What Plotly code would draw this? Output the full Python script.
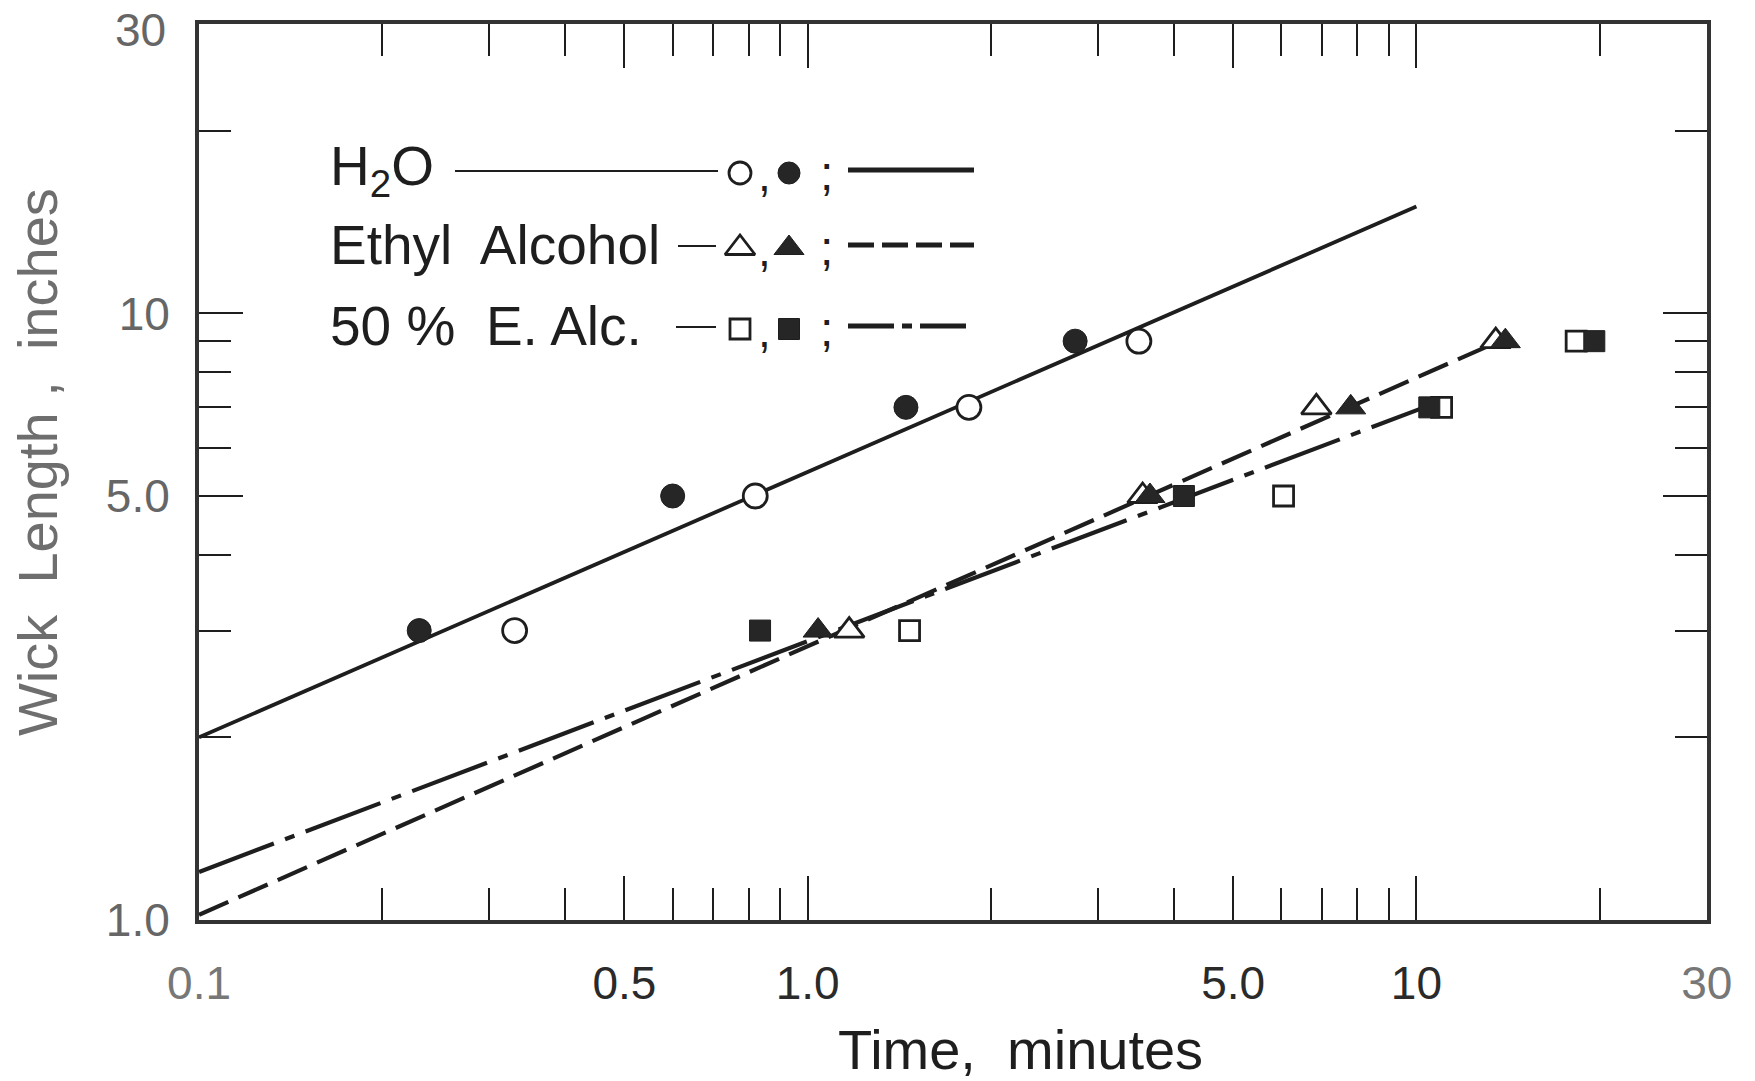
import math
import plotly.graph_objects as go

# ---- data: wick length (inches) versus time (minutes) ----
wick_length = [3.0, 5.0, 7.0, 9.0]

h2o_closed_t = [0.23, 0.60, 1.45, 2.75]
h2o_open_t = [0.33, 0.82, 1.84, 3.50]

ethyl_closed_t = [1.04, 3.65, 7.80, 14.0]
ethyl_open_t = [1.17, 3.55, 6.85, 13.5]

half_closed_t = [0.835, 4.15, 10.5, 19.6]
half_open_t = [1.47, 6.05, 11.0, 18.3]

# fitted lines (end points)
h2o_fit_t = [0.1, 10.0]
h2o_fit_len = [2.0, 15.0]
ethyl_fit_t = [0.1, 13.0]
ethyl_fit_len = [1.02, 8.8]
half_fit_t = [0.1, 10.3]
half_fit_len = [1.2, 7.0]

# axis ticks
x_major = [0.1, 0.5, 1.0, 5.0, 10.0, 30.0]
x_major_text = ["0.1", "0.5", "1.0", "5.0", "10", "30"]
x_minor = [0.2, 0.3, 0.4, 0.6, 0.7, 0.8, 0.9, 2, 3, 4, 6, 7, 8, 9, 20]
y_major = [1.0, 5.0, 10.0]
y_major_text = ["1.0", "5.0", "10"]
y_minor = [2, 3, 4, 6, 7, 8, 9, 20]
y_top_text = "30"

# ---- layout geometry (pixels) ----
W, H = 1755, 1081
L, R, T, B = 199, 1707, 24, 920

INK = "#1e1e1e"
FONT = "Liberation Sans"


def px(xp):
    return (xp - L) / (R - L)


def py(yp):
    return (B - yp) / (B - T)


fig = go.Figure()

# fitted lines
fig.add_trace(go.Scatter(x=h2o_fit_t, y=h2o_fit_len, mode="lines",
                         line=dict(color=INK, width=3.8)))
fig.add_trace(go.Scatter(x=ethyl_fit_t, y=ethyl_fit_len, mode="lines",
                         line=dict(color=INK, width=4.2, dash="32px,11px")))
fig.add_trace(go.Scatter(x=half_fit_t, y=half_fit_len, mode="lines",
                         line=dict(color=INK, width=4.2, dash="80px,12px,10px,12px")))


def open_marker(sym, size):
    return dict(symbol=sym, size=size, color="white", line=dict(color=INK, width=2.8))


def closed_marker(sym, size):
    return dict(symbol=sym, size=size, color="#262626", line=dict(color=INK, width=1))


# measured points (open drawn first, filled on top)
fig.add_trace(go.Scatter(x=h2o_open_t, y=wick_length, mode="markers",
                         marker=open_marker("circle", 24)))
fig.add_trace(go.Scatter(x=h2o_closed_t, y=wick_length, mode="markers",
                         marker=closed_marker("circle", 24)))
fig.add_trace(go.Scatter(x=ethyl_open_t, y=wick_length, mode="markers",
                         marker=open_marker("triangle-up", 26)))
fig.add_trace(go.Scatter(x=ethyl_closed_t, y=wick_length, mode="markers",
                         marker=closed_marker("triangle-up", 26)))
fig.add_trace(go.Scatter(x=half_open_t, y=wick_length, mode="markers",
                         marker=open_marker("square", 20)))
fig.add_trace(go.Scatter(x=half_closed_t, y=wick_length, mode="markers",
                         marker=closed_marker("square", 21)))

# ---- key (drawn on an overlay axis spanning the plot area) ----
rows_y = [170, 245, 326]
key_symbols = [("circle", "circle", 22, 22), ("triangle-up", "triangle-up", 26, 26),
               ("square", "square", 20, 21)]
open_x, closed_x = 740, 789
for ry, (so, sc, szo, szc) in zip(rows_y, key_symbols):
    fig.add_trace(go.Scatter(x=[px(open_x)], y=[py(ry + 3)], mode="markers",
                             marker=open_marker(so, szo), xaxis="x2", yaxis="y2"))
    fig.add_trace(go.Scatter(x=[px(closed_x)], y=[py(ry + 3)], mode="markers",
                             marker=closed_marker(sc, szc), xaxis="x2", yaxis="y2"))

key_labels = ["H<sub>2</sub>O", "Ethyl  Alcohol", "50 %  E. Alc."]
for ry, txt in zip(rows_y, key_labels):
    fig.add_annotation(x=px(328), y=py(ry), xref="paper", yref="paper", text=txt,
                       showarrow=False, xanchor="left", yanchor="middle",
                       font=dict(family=FONT, size=55, color=INK))
    fig.add_annotation(x=px(764), y=py(ry + 5), xref="paper", yref="paper", text=",",
                       showarrow=False, xanchor="center", yanchor="middle",
                       font=dict(family=FONT, size=46, color=INK))
    fig.add_annotation(x=px(826), y=py(ry + 3), xref="paper", yref="paper", text=";",
                       showarrow=False, xanchor="center", yanchor="middle",
                       font=dict(family=FONT, size=48, color=INK))

# thin connecting strokes after the labels
connectors = [(455, 718), (678, 716), (676, 716)]
for ry, (x0, x1) in zip(rows_y, connectors):
    fig.add_shape(type="line", xref="paper", yref="paper",
                  x0=px(x0), x1=px(x1), y0=py(ry + 1), y1=py(ry + 1),
                  line=dict(color=INK, width=2.2))

# line-style samples
samples = ["solid", "26px,8px", "46px,8px,10px,8px"]
for ry, dash in zip(rows_y, samples):
    fig.add_shape(type="line", xref="paper", yref="paper",
                  x0=px(848), x1=px(974), y0=py(ry), y1=py(ry),
                  line=dict(color=INK, width=5, dash=dash))

# ---- axis titles ----
fig.add_annotation(x=px(1020), y=py(1049), xref="paper", yref="paper",
                   text="Time,  minutes", showarrow=False,
                   xanchor="center", yanchor="middle",
                   font=dict(family=FONT, size=56, color=INK))
fig.add_annotation(x=px(37), y=py(462), xref="paper", yref="paper",
                   text="Wick  Length ,  inches", showarrow=False, textangle=-90,
                   xanchor="center", yanchor="middle",
                   font=dict(family=FONT, size=56, color="#6e6e6e"))

# top label of the length axis, kept inside the page
fig.add_annotation(x=px(168), y=py(30), xref="paper", yref="paper",
                   text=y_top_text, showarrow=False,
                   xanchor="right", yanchor="middle",
                   font=dict(family=FONT, size=46, color="#666666"))

x_text = []
for v, t in zip(x_major, x_major_text):
    if v in (0.1, 30.0):
        x_text.append(f"<span style='color:#777777'>{t}</span>")
    else:
        x_text.append(t)

axis_common = dict(
    showgrid=False, zeroline=False, showline=True, linewidth=4, linecolor="#333333",
    mirror="allticks", ticks="inside", ticklen=44, tickwidth=2.4, tickcolor=INK,
    ticklabeloverflow="allow", automargin=False,
)

fig.update_layout(
    width=W, height=H,
    margin=dict(l=L, r=W - R, t=T, b=H - B),
    paper_bgcolor="white", plot_bgcolor="white",
    showlegend=False,
    xaxis=dict(
        type="log", range=[math.log10(0.09999), math.log10(30.02)],
        tickmode="array", tickvals=x_major, ticktext=x_text,
        tickfont=dict(family=FONT, size=46, color="#2a2a2a"),
        ticklabelstandoff=20,
        minor=dict(tickmode="array", tickvals=x_minor, ticks="inside",
                   ticklen=32, tickwidth=2.4, tickcolor=INK),
        **axis_common,
    ),
    yaxis=dict(
        type="log", range=[math.log10(0.9999), math.log10(30.0)],
        tickmode="array", tickvals=y_major, ticktext=y_major_text,
        tickfont=dict(family=FONT, size=46, color="#666666"),
        ticklabelstandoff=16,
        minor=dict(tickmode="array", tickvals=y_minor, ticks="inside",
                   ticklen=32, tickwidth=2.4, tickcolor=INK),
        **axis_common,
    ),
    xaxis2=dict(overlaying="x", range=[0, 1], visible=False, fixedrange=True),
    yaxis2=dict(overlaying="y", range=[0, 1], visible=False, fixedrange=True),
)

fig.write_html("out.html")
